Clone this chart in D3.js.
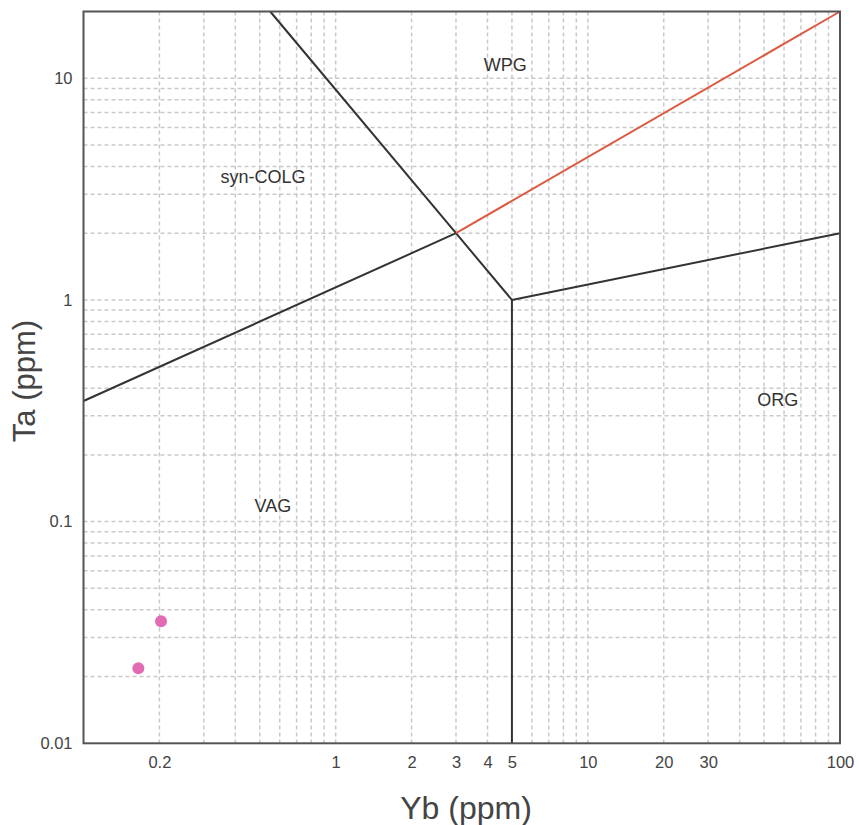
<!DOCTYPE html>
<html>
<head>
<meta charset="utf-8">
<script src="https://cdn.jsdelivr.net/npm/d3@7/dist/d3.min.js"></script>
<style>
  body { margin: 0; background: #fff; }
  svg { display: block; font-family: "Liberation Sans", Arial, sans-serif; }
</style>
</head>
<body>
<svg id="chart" width="859" height="825"></svg>
<script>
// Ta vs Yb granite tectonic discrimination diagram (log–log)
const xDomain = [0.1, 100];
const yDomain = [0.01, 20];

const xTickValues = [0.2, 1, 2, 3, 4, 5, 10, 20, 30, 100];
const xTickLabels = ["0.2", "1", "2", "3", "4", "5", "10", "20", "30", "100"];
const yTickValues = [0.01, 0.1, 1, 10];
const yTickLabels = ["0.01", "0.1", "1", "10"];

// Field boundaries [Yb, Ta]
const boundaryVAG_COLG = [[0.1, 0.35], [3, 2]];
const boundaryCOLG_WPG = [[0.55, 20], [3, 2], [5, 1]];
const boundaryWPG_ORG = [[5, 1], [100, 2]];
const boundaryVAG_ORG = [[5, 1], [5, 0.01]];
const boundaryWPG_split = [[3, 2], [100, 20]];

// Field names and their anchor positions [Yb, Ta]
const fieldNames = ["WPG", "syn-COLG", "VAG", "ORG"];
const fieldYb = [4.7, 0.515, 0.564, 56.7];
const fieldTa = [11.5, 3.6, 0.1185, 0.354];

// Samples
const sampleYb = [0.203, 0.165];
const sampleTa = [0.0355, 0.0218];

const plotLeft = 83.5, plotRight = 840, plotTop = 11.5, plotBottom = 743.3;

const svg = d3.select("#chart");
const x = d3.scaleLog().domain(xDomain).range([plotLeft, plotRight]);
const y = d3.scaleLog().domain(yDomain).range([plotBottom, plotTop]);

// Grid lines at every 1..9 multiple of each decade
const gridX = [];
for (let d = 0.1; d < 100; d *= 10) for (let k = 1; k <= 9; k++) {
  const v = +(d * k).toPrecision(6);
  if (v > xDomain[0] && v < xDomain[1]) gridX.push(v);
}
const gridY = [];
for (let d = 0.01; d < 20; d *= 10) for (let k = 1; k <= 9; k++) {
  const v = +(d * k).toPrecision(6);
  if (v > yDomain[0] && v < yDomain[1]) gridY.push(v);
}

const grid = svg.append("g")
  .attr("stroke", "#c9c9c9").attr("stroke-width", 1.5).attr("stroke-dasharray", "4,3");
grid.selectAll("line.gx").data(gridX).join("line").attr("class", "gx")
  .attr("x1", d => x(d)).attr("x2", d => x(d)).attr("y1", plotTop).attr("y2", plotBottom);
grid.selectAll("line.gy").data(gridY).join("line").attr("class", "gy")
  .attr("y1", d => y(d)).attr("y2", d => y(d)).attr("x1", plotLeft).attr("x2", plotRight);

// Field labels
svg.append("g").selectAll("text").data(fieldNames).join("text")
  .attr("x", (d, i) => x(fieldYb[i]))
  .attr("y", (d, i) => y(fieldTa[i]))
  .attr("dy", "0.35em")
  .attr("text-anchor", "middle")
  .attr("font-size", 18).attr("fill", "#333")
  .text(d => d);

// Boundaries
const line = d3.line().x(d => x(d[0])).y(d => y(d[1]));
const lines = svg.append("g").attr("fill", "none").attr("stroke-width", 2);
[boundaryVAG_COLG, boundaryCOLG_WPG, boundaryWPG_ORG, boundaryVAG_ORG].forEach(b => {
  lines.append("path").attr("d", line(b)).attr("stroke", "#333");
});
lines.append("path").attr("d", line(boundaryWPG_split)).attr("stroke", "#db5a40");

// Samples
svg.append("g").selectAll("circle").data(sampleYb).join("circle")
  .attr("cx", d => x(d))
  .attr("cy", (d, i) => y(sampleTa[i]))
  .attr("r", 6).attr("fill", "#e26cb4");

// Frame
svg.append("rect").attr("x", plotLeft).attr("y", plotTop)
  .attr("width", plotRight - plotLeft).attr("height", plotBottom - plotTop)
  .attr("fill", "none").attr("stroke", "#555").attr("stroke-width", 2);

// Axes
const xAxis = svg.append("g").attr("transform", `translate(0,${plotBottom})`)
  .call(d3.axisBottom(x).tickValues(xTickValues)
    .tickFormat((d, i) => xTickLabels[i]).tickSize(0).tickPadding(13));
const yAxis = svg.append("g").attr("transform", `translate(${plotLeft},0)`)
  .call(d3.axisLeft(y).tickValues(yTickValues)
    .tickFormat((d, i) => yTickLabels[i]).tickSize(0).tickPadding(11));
[xAxis, yAxis].forEach(a => {
  a.select(".domain").remove();
  a.selectAll("text").attr("font-size", 16.5).attr("fill", "#444")
    .attr("font-family", "Liberation Sans, Arial, sans-serif");
});

// Axis titles
svg.append("text").attr("x", 466).attr("y", 819)
  .attr("text-anchor", "middle").attr("font-size", 32).attr("fill", "#444")
  .text("Yb (ppm)");
svg.append("text")
  .attr("transform", `translate(35,381) rotate(-90)`)
  .attr("text-anchor", "middle").attr("font-size", 31).attr("fill", "#444")
  .text("Ta (ppm)");
</script>
</body>
</html>
